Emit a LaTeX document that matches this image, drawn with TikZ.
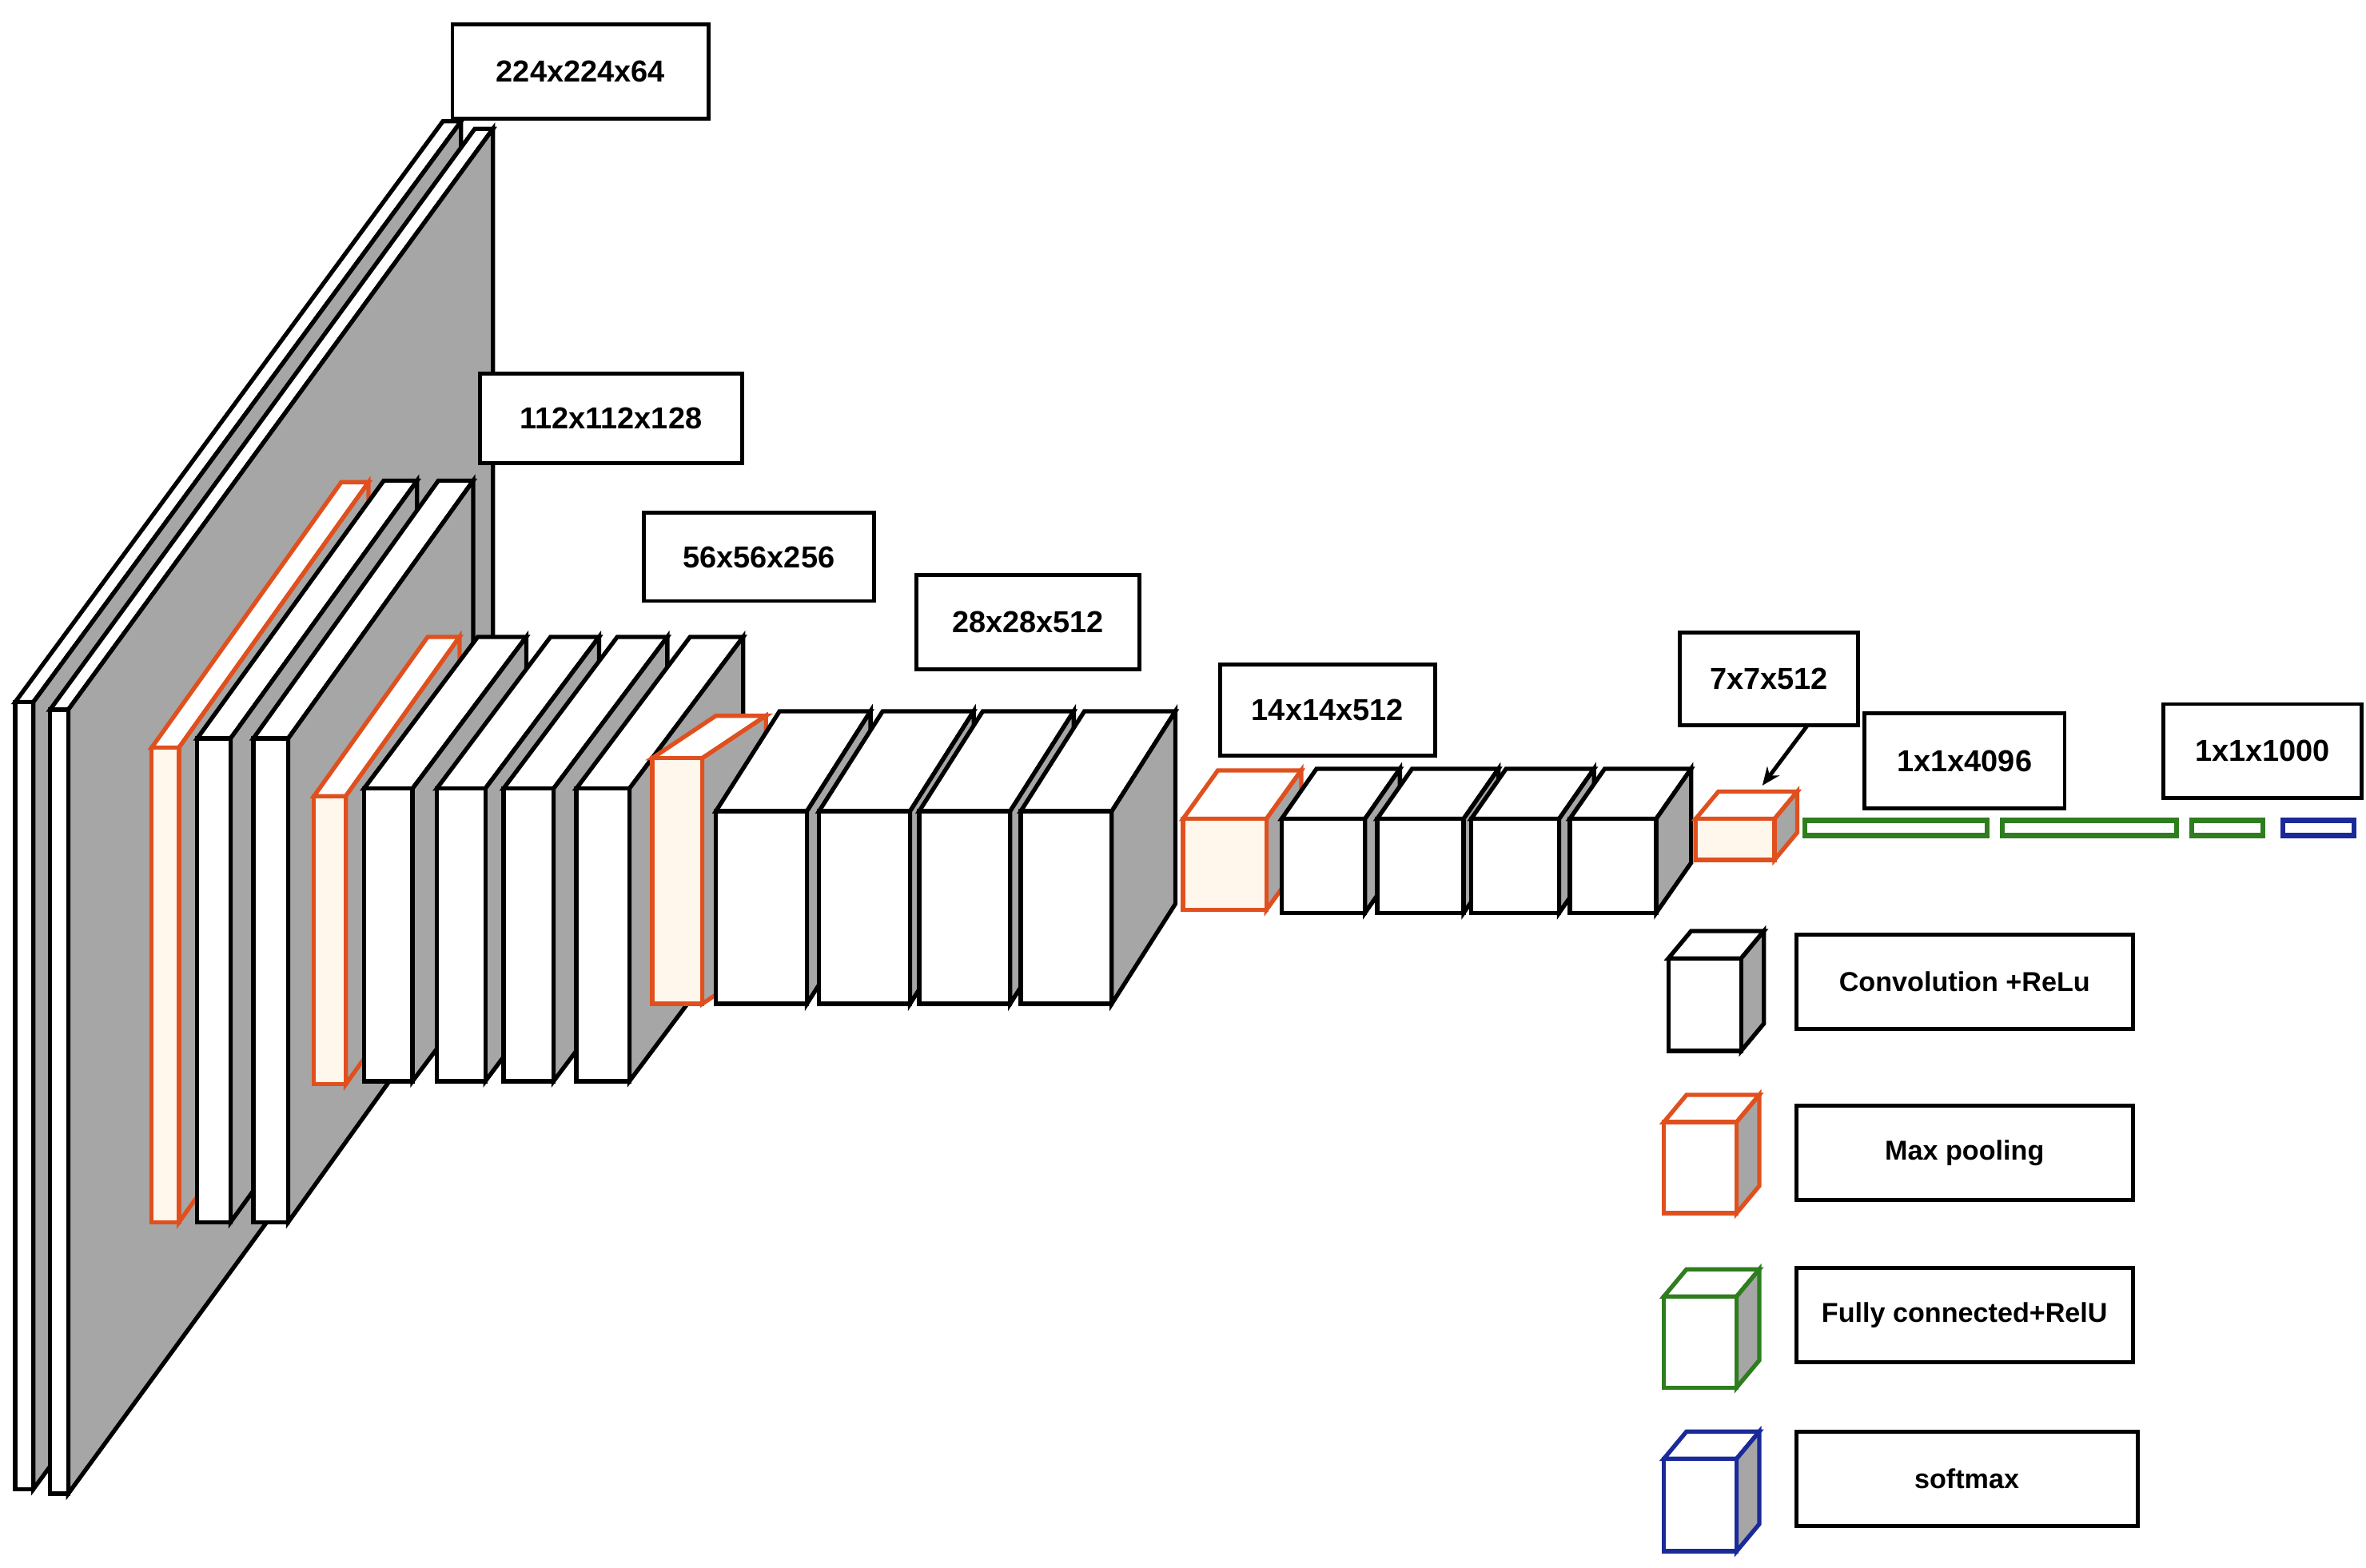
\documentclass[tikz,border=0pt]{standalone}
\usepackage{fontspec}
\setmainfont{Liberation Sans}
\usetikzlibrary{arrows.meta}
\definecolor{vred}{HTML}{E0501E}
\definecolor{vgreen}{HTML}{2E7D1E}
\definecolor{vblue}{HTML}{1A2A9A}
\definecolor{vside}{HTML}{A6A6A6}
\definecolor{vpale}{HTML}{FFF6EC}
% #1 x, #2 y (front top-left), #3 w, #4 h, #5 dx, #6 dy, #7 line colour, #8 front fill
\newcommand\vgcube[8]{%
  \filldraw[draw=#7,fill=white,line width=1.4pt,line join=miter]
    (#1,#2) -- ++(#5,-#6) -- ++(#3,0) -- ++(-#5,#6) -- cycle;
  \filldraw[draw=#7,fill=vside,line width=1.4pt,line join=miter]
    (#1+#3,#2) -- ++(#5,-#6) -- ++(0,#4) -- ++(-#5,#6) -- cycle;
  \filldraw[draw=#7,fill=#8,line width=1.4pt]
    (#1,#2) rectangle ++(#3,#4);
}
\tikzset{
  lab/.style={draw=black,line width=1.3pt,fill=white,font=\bfseries\fontsize{10}{12}\selectfont,
    inner sep=0pt,anchor=north west},
}
\begin{document}
\begin{tikzpicture}[x=0.5pt,y=-0.5pt]
\useasboundingbox (0,0) rectangle (1560,1034);
% block 1
\vgcube{10}{463}{12}{519}{282}{383}{black}{white}
\vgcube{33}{468}{12}{517}{280}{383}{black}{white}
% block 2
\vgcube{100}{493}{18}{313}{125}{175}{vred}{vpale}
\vgcube{130}{487}{22}{319}{123}{170}{black}{white}
\vgcube{167}{487}{23}{319}{122}{170}{black}{white}
% block 3
\vgcube{207}{525}{21}{190}{75}{105}{vred}{vpale}
\foreach \xx/\ww in {240/32,288/32,332/33,380/35}
  {\vgcube{\xx}{520}{\ww}{193}{75}{100}{black}{white}}
% block 4
\vgcube{430}{500}{33}{162}{42}{28}{vred}{vpale}
\foreach \xx in {472,540,606,673}
  {\vgcube{\xx}{535}{60}{127}{42}{66}{black}{white}}
% block 5
\vgcube{780}{540}{55}{60}{23}{32}{vred}{vpale}
\foreach \xx/\ww in {845/55,908/57,970/58,1035/57}
  {\vgcube{\xx}{540}{\ww}{62}{23}{33}{black}{white}}
% block 6
\vgcube{1118}{540}{52}{27}{15}{18}{vred}{vpale}
% FC
\foreach \xa/\xb in {1190/1310,1320/1435,1445/1492}
  {\filldraw[draw=vgreen,fill=white,line width=1.6pt] (\xa,541) rectangle (\xb,551);}
\filldraw[draw=vblue,fill=white,line width=1.6pt] (1505,541) rectangle (1552,551);
% labels
\node[lab,minimum width=84.5pt,minimum height=31pt] (l1) at (297,15) {224x224x64};
\node[lab,minimum width=86.5pt,minimum height=29.5pt] (l2) at (315,245) {112x112x128};
\node[lab,minimum width=76pt,minimum height=29pt] (l3) at (423,337) {56x56x256};
\node[lab,minimum width=73.5pt,minimum height=31pt] (l4) at (603,378) {28x28x512};
\node[lab,minimum width=71pt,minimum height=30pt] (l5) at (803,437) {14x14x512};
\node[lab,minimum width=59pt,minimum height=30.5pt] (l6) at (1106,416) {7x7x512};
\node[lab,minimum width=66pt,minimum height=31.5pt] (l7) at (1228,469) {1x1x4096};
\node[lab,minimum width=65.5pt,minimum height=31pt] (l8) at (1425,463) {1x1x1000};
\coordinate (p6) at (1162,518);
\draw[line width=1.3pt,-{Stealth[length=6pt,width=5pt]}] (1192,478) -- (p6);
% legend
\vgcube{1100}{632}{48}{61}{15}{18}{black}{white}
\vgcube{1097}{740}{48}{60}{15}{18}{vred}{white}
\vgcube{1097}{855}{48}{60}{15}{18}{vgreen}{white}
\vgcube{1097}{962}{48}{61}{15}{18}{vblue}{white}
\tikzset{leg/.style={lab,font=\bfseries\fontsize{9}{11}\selectfont,minimum width=111pt,minimum height=31pt}}
\node[leg] (g1) at (1183,615) {Convolution +ReLu};
\node[leg] (g2) at (1183,728) {Max pooling};
\node[leg] (g3) at (1183,835) {Fully connected+RelU};
\node[leg,minimum width=112.5pt] (g4) at (1183,943) {softmax};
\end{tikzpicture}
\end{document}
